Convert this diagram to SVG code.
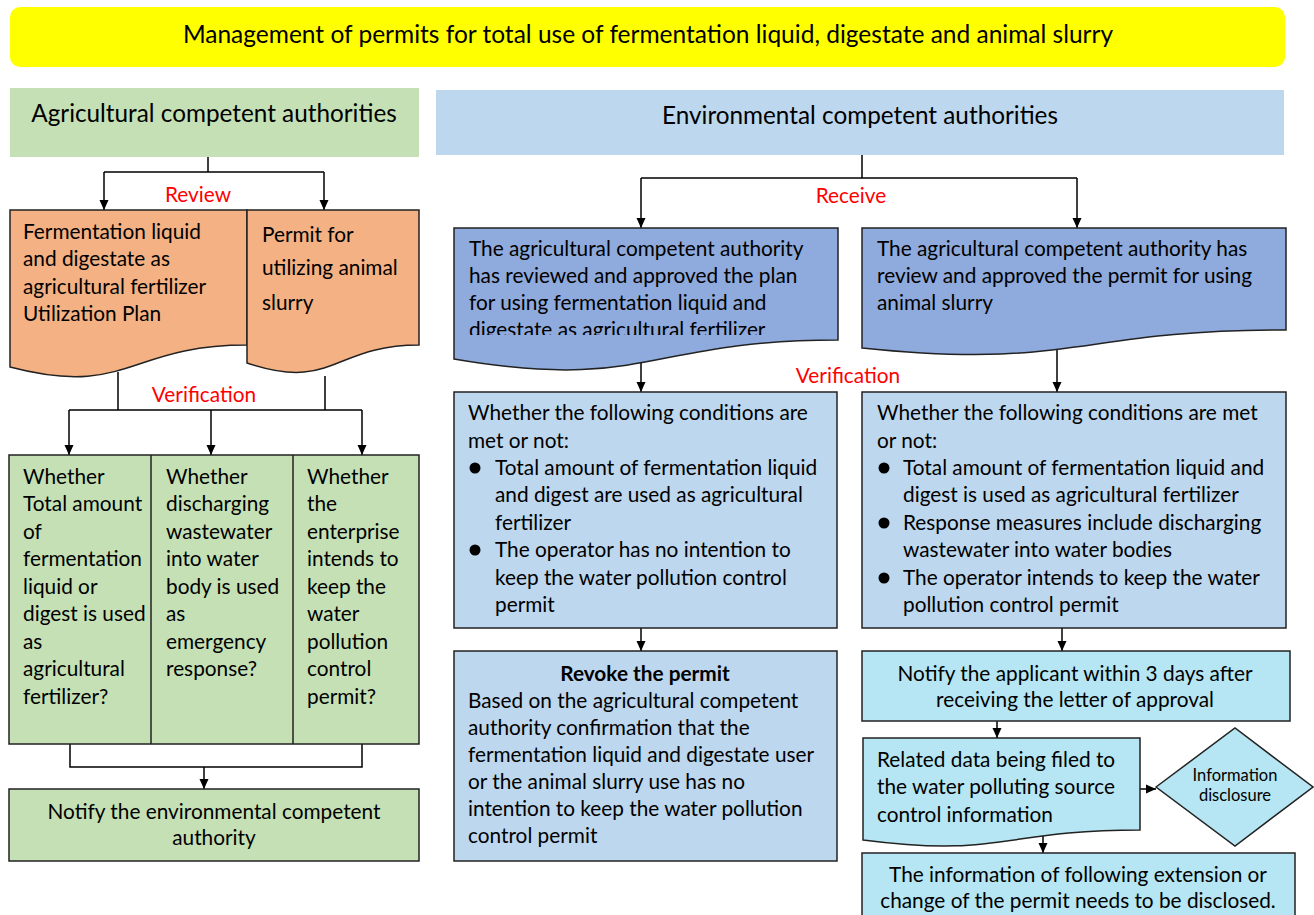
<svg xmlns="http://www.w3.org/2000/svg" width="1314" height="915" viewBox="0 0 1314 915">
<style>
.t{font-family:Lato,"Liberation Sans",sans-serif;font-size:20.8px;fill:#000}
.c{text-anchor:middle}
.red{fill:#FF0000}
.hd{font-size:24.3px}
.ttl{font-size:24.5px}
.sm{font-size:16.5px}
.bold{font-weight:bold}
.b{stroke:#222;stroke-width:1.5}
.ln{fill:none;stroke:#000;stroke-width:1.5}
</style>
<defs>
<marker id="ah" markerUnits="userSpaceOnUse" markerWidth="10" markerHeight="10" refX="10" refY="5" orient="auto">
<path d="M0,0.5 L10,5 L0,9.5 z" fill="#000"/>
</marker>
<clipPath id="clipL"><rect x="454" y="228" width="384" height="107"/></clipPath>
</defs>
<rect width="1314" height="915" fill="#fff"/>

<g id="connectors">
<path class="ln" d="M208,157 V172 M104,172 H324"/>
<path class="ln" d="M104,172 V210" marker-end="url(#ah)"/>
<path class="ln" d="M324,172 V210" marker-end="url(#ah)"/>
<path class="ln" d="M118,372 V410 M325,376 V410 M69,410 H362"/>
<path class="ln" d="M69,410 V455" marker-end="url(#ah)"/>
<path class="ln" d="M211,410 V455" marker-end="url(#ah)"/>
<path class="ln" d="M362,410 V455" marker-end="url(#ah)"/>
<path class="ln" d="M70,744 V767 H362 V744"/>
<path class="ln" d="M204,767 V789" marker-end="url(#ah)"/>
<path class="ln" d="M862,155 V178 M641,178 H1077"/>
<path class="ln" d="M641,178 V228" marker-end="url(#ah)"/>
<path class="ln" d="M1077,178 V228" marker-end="url(#ah)"/>
<path class="ln" d="M641,360 V392" marker-end="url(#ah)"/>
<path class="ln" d="M1057,350 V392" marker-end="url(#ah)"/>
<path class="ln" d="M641,628 V651" marker-end="url(#ah)"/>
<path class="ln" d="M1062,628 V651" marker-end="url(#ah)"/>
<path class="ln" d="M997,721 V738" marker-end="url(#ah)"/>
<path class="ln" d="M1140,789 H1156" marker-end="url(#ah)"/>
<path class="ln" d="M1043,832 V853" marker-end="url(#ah)"/>
</g>

<g id="title">
<rect x="10" y="7" width="1275" height="60" rx="10" fill="#FFFF00"/>
<text class="t c ttl" x="648" y="43">Management of permits for total use of fermentation liquid, digestate and animal slurry</text>
</g>

<g id="agri-header">
<rect x="10" y="88" width="409" height="69" fill="#C5E0B4"/>
<text class="t c hd" x="214" y="122">Agricultural competent authorities</text>
</g>

<g id="env-header">
<rect x="436" y="90" width="848" height="65" fill="#BDD7EE"/>
<text class="t c hd" x="860" y="124">Environmental competent authorities</text>
</g>

<g id="labels">
<text class="t c red" x="198" y="202">Review</text>
<text class="t c red" x="851" y="203">Receive</text>
<text class="t c red" x="204" y="402">Verification</text>
<text class="t c red" x="848" y="383">Verification</text>
</g>

<g id="plan-doc">
<path class="b" fill="#F4B183" d="M10,210 H247 V345 C128,345 128,398 10,367 Z"/>
<text class="t" x="23" y="239">Fermentation liquid</text>
<text class="t" x="23" y="266">and digestate as</text>
<text class="t" x="23" y="294">agricultural fertilizer</text>
<text class="t" x="23" y="321">Utilization Plan</text>
</g>

<g id="slurry-doc">
<path class="b" fill="#F4B183" d="M247,210 H419 V345 C333,345 333,392 247,363 Z"/>
<text class="t" x="262" y="242">Permit for</text>
<text class="t" x="262" y="275">utilizing animal</text>
<text class="t" x="262" y="310">slurry</text>
</g>

<g id="checks">
<rect class="b" x="9" y="455" width="410" height="289" fill="#C5E0B4"/>
<path class="b" d="M151,455 V744 M293,455 V744" fill="none"/>
<g class="t">
<text x="23" y="484">Whether</text>
<text x="23" y="511">Total amount</text>
<text x="23" y="539">of</text>
<text x="23" y="566">fermentation</text>
<text x="23" y="594">liquid or</text>
<text x="23" y="621">digest is used</text>
<text x="23" y="649">as</text>
<text x="23" y="676">agricultural</text>
<text x="23" y="704">fertilizer?</text>
<text x="166" y="484">Whether</text>
<text x="166" y="511">discharging</text>
<text x="166" y="539">wastewater</text>
<text x="166" y="566">into water</text>
<text x="166" y="594">body is used</text>
<text x="166" y="621">as</text>
<text x="166" y="649">emergency</text>
<text x="166" y="676">response?</text>
<text x="307" y="484">Whether</text>
<text x="307" y="511">the</text>
<text x="307" y="539">enterprise</text>
<text x="307" y="566">intends to</text>
<text x="307" y="594">keep the</text>
<text x="307" y="621">water</text>
<text x="307" y="649">pollution</text>
<text x="307" y="676">control</text>
<text x="307" y="704">permit?</text>
</g>
</g>

<g id="notify-env">
<rect class="b" x="9" y="789" width="410" height="72" fill="#C5E0B4"/>
<text class="t c" x="214" y="819">Notify the environmental competent</text>
<text class="t c" x="214" y="845">authority</text>
</g>

<g id="approved-plan">
<path class="b" fill="#8FAADC" d="M454,228 H838 V340 C646,340 646,392 454,359 Z"/>
<g clip-path="url(#clipL)">
<text class="t" x="469" y="256">The agricultural competent authority</text>
<text class="t" x="469" y="283">has reviewed and approved the plan</text>
<text class="t" x="469" y="310">for using fermentation liquid and</text>
<text class="t" x="469" y="337">digestate as agricultural fertilizer</text>
</g>
</g>

<g id="approved-slurry">
<path class="b" fill="#8FAADC" d="M862,228 H1286 V330 C1074,330 1074,370 862,348 Z"/>
<text class="t" x="877" y="256">The agricultural competent authority has</text>
<text class="t" x="877" y="283">review and approved the permit for using</text>
<text class="t" x="877" y="310">animal slurry</text>
</g>

<g id="cond-left">
<rect class="b" x="454" y="392" width="383" height="236" fill="#BDD7EE"/>
<circle cx="475" cy="468" r="5.5"/>
<circle cx="475" cy="550" r="5.5"/>
<g class="t">
<text x="468" y="420">Whether the following conditions are</text>
<text x="468" y="448">met or not:</text>
<text x="495" y="475">Total amount of fermentation liquid</text>
<text x="495" y="502">and digest are used as agricultural</text>
<text x="495" y="530">fertilizer</text>
<text x="495" y="557">The operator has no intention to</text>
<text x="495" y="585">keep the water pollution control</text>
<text x="495" y="612">permit</text>
</g>
</g>

<g id="cond-right">
<rect class="b" x="862" y="392" width="424" height="236" fill="#BDD7EE"/>
<circle cx="884" cy="468" r="5.5"/>
<circle cx="884" cy="523" r="5.5"/>
<circle cx="884" cy="578" r="5.5"/>
<g class="t">
<text x="877" y="420">Whether the following conditions are met</text>
<text x="877" y="448">or not:</text>
<text x="903" y="475">Total amount of fermentation liquid and</text>
<text x="903" y="502">digest is used as agricultural fertilizer</text>
<text x="903" y="530">Response measures include discharging</text>
<text x="903" y="557">wastewater into water bodies</text>
<text x="903" y="585">The operator intends to keep the water</text>
<text x="903" y="612">pollution control permit</text>
</g>
</g>

<g id="revoke">
<rect class="b" x="454" y="651" width="383" height="210" fill="#BDD7EE"/>
<text class="t c bold" x="645" y="681">Revoke the permit</text>
<g class="t">
<text x="468" y="708">Based on the agricultural competent</text>
<text x="468" y="735">authority confirmation that the</text>
<text x="468" y="762">fermentation liquid and digestate user</text>
<text x="468" y="789">or the animal slurry use has no</text>
<text x="468" y="816">intention to keep the water pollution</text>
<text x="468" y="843">control permit</text>
</g>
</g>

<g id="notify-applicant">
<rect class="b" x="862" y="651" width="428" height="70" fill="#B6E6F3"/>
<text class="t c" x="1075" y="681">Notify the applicant within 3 days after</text>
<text class="t c" x="1075" y="707">receiving the letter of approval</text>
</g>

<g id="filed-doc">
<path class="b" fill="#B6E6F3" d="M863,738 H1140 V830 C1002,830 1002,858 863,840 Z"/>
<text class="t" x="877" y="767">Related data being filed to</text>
<text class="t" x="877" y="794">the water polluting source</text>
<text class="t" x="877" y="822">control information</text>
</g>

<g id="disclosure">
<path class="b" fill="#B6E6F3" d="M1156,787 L1235,728 L1313,787 L1235,846 Z"/>
<text class="t c sm" x="1235" y="781">Information</text>
<text class="t c sm" x="1235" y="801">disclosure</text>
</g>

<g id="disclose-change">
<rect class="b" x="862" y="853" width="433" height="70" fill="#B6E6F3"/>
<text class="t c" x="1078" y="882">The information of following extension or</text>
<text class="t c" x="1078" y="908">change of the permit needs to be disclosed.</text>
</g>
</svg>
